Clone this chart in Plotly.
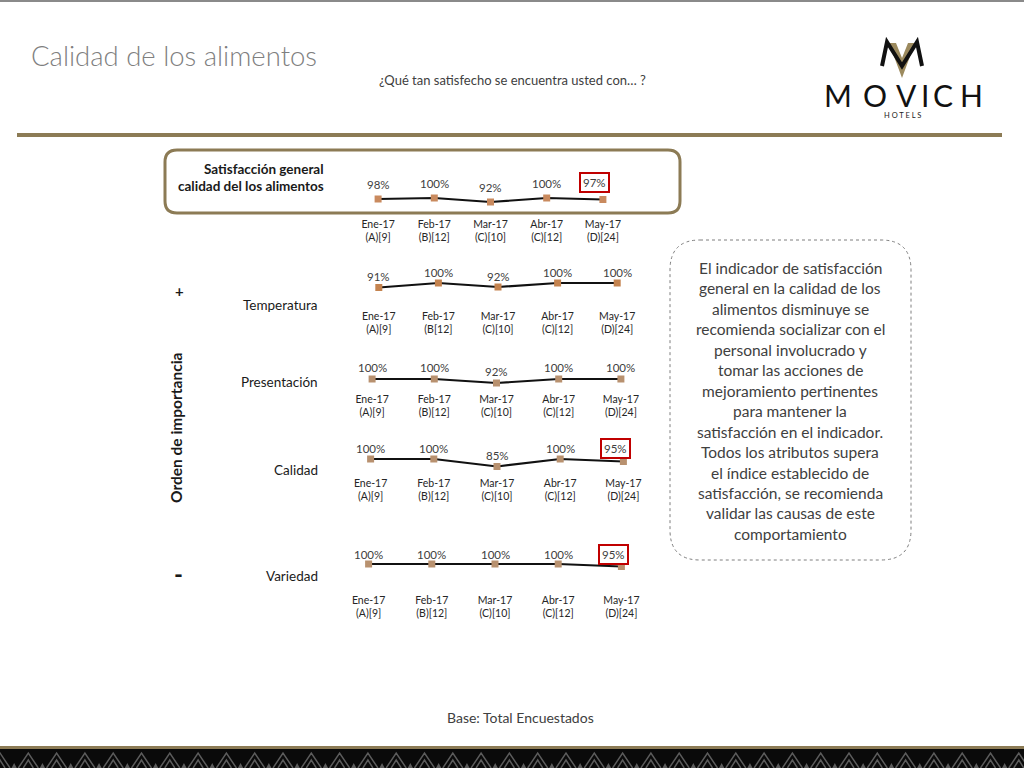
import plotly.graph_objects as go

W, H = 1024, 768


def X(px):
    return px / W


def Y(py):
    return 1 - py / H


# ---------------- data ----------------
months = ["Ene-17", "Feb-17", "Mar-17", "Abr-17", "May-17"]
bases = ["(A)[9]", "(B)[12]", "(C)[10]", "(C)[12]", "(D)[24]"]
bases_temperatura = ["(A)[9]", "(B[12]", "(C)[10]", "(C)[12]", "(D)[24]"]

general = [98, 100, 92, 100, 97]
temperatura = [91, 100, 92, 100, 100]
presentacion = [100, 100, 92, 100, 100]
calidad = [100, 100, 85, 100, 95]
variedad = [100, 100, 100, 100, 95]

row_labels = ["Temperatura", "Presentación", "Calidad", "Variedad"]
highlight_last = [True, False, False, True, True]

box_lines = [
    "El indicador de satisfacción",
    "general en la calidad de los",
    "alimentos disminuye se",
    "recomienda socializar con el",
    "personal involucrado y",
    "tomar las acciones de",
    "mejoramiento pertinentes",
    "para mantener la",
    "satisfacción en el indicador.",
    "Todos los atributos supera",
    "el índice establecido de",
    "satisfacción, se recomienda",
    "validar las causas de este",
    "comportamiento",
]

# ---------------- layout params ----------------
FONT = "Lato"
GOLD = "#8c7b55"
series = [general, temperatura, presentacion, calidad, variedad]
base_sets = [bases, bases_temperatura, bases, bases, bases]
# (y of 100% marker, left, width, tick standoff, label yshift, marker colour)
geom = [
    (198, 350, 281, 6, 15, "#c98a5e"),
    (283, 349, 298, 13, 11, "#c4834f"),
    (379, 341, 311, 0, 12, "#b8916f"),
    (459, 339, 316, 4, 11, "#b8916f"),
    (564, 337, 316, 16, 10, "#b8916f"),
]
YMIN, YMAX = 76, 108

fig = go.Figure()
annotations = []
shapes = []
layout_axes = {}

for i, (vals, bl, g, hl) in enumerate(zip(series, base_sets, geom, highlight_last)):
    y100, left, width, standoff, yshift, mcol = g
    n = i + 1
    xa = "x" if n == 1 else f"x{n}"
    ya = "y" if n == 1 else f"y{n}"
    top = y100 - (YMAX - 100) * 0.5
    bottom = top + (YMAX - YMIN) * 0.5
    xs = list(range(len(months)))
    fig.add_trace(go.Scatter(
        x=xs, y=vals, mode="lines+markers",
        line=dict(color="#111111", width=2.2),
        marker=dict(symbol="square", size=7, color=mcol),
        xaxis=xa, yaxis=ya, showlegend=False, hoverinfo="skip",
        cliponaxis=False,
    ))
    ticktext = [f"{m}<br>{b}" for m, b in zip(months, bl)]
    layout_axes["xaxis" if n == 1 else f"xaxis{n}"] = dict(
        domain=[X(left), X(left + width)], anchor=ya, range=[-0.5, 4.5],
        tickvals=xs, ticktext=ticktext, showgrid=False, zeroline=False,
        showline=False, ticks="", ticklabelstandoff=standoff,
        tickfont=dict(family=FONT, size=10.5, color="#262626"), fixedrange=True,
    )
    layout_axes["yaxis" if n == 1 else f"yaxis{n}"] = dict(
        domain=[Y(bottom), Y(top)], anchor=xa, range=[YMIN, YMAX],
        visible=False, fixedrange=True,
    )
    for j, v in enumerate(vals):
        boxed = hl and j == len(vals) - 1
        ann = dict(
            x=j, y=v, xref=xa, yref=ya, text=f"{v}%", showarrow=False,
            yshift=yshift + (2 if boxed else 0), xshift=-8 if boxed else 0,
            font=dict(family=FONT, size=11.5, color="#404040"),
        )
        if boxed:
            ann.update(bordercolor="#c00000", borderwidth=2, borderpad=2)
        annotations.append(ann)

# ---------------- page texts ----------------
def txt(x, y, text, size, color="#262626", xanchor="center", bold=False, **kw):
    d = dict(x=X(x), y=Y(y), xref="paper", yref="paper", text=text,
             showarrow=False, xanchor=xanchor, yanchor="middle",
             font=dict(family=FONT, size=size, color=color,
                       weight="bold" if bold else "normal"))
    d.update(kw)
    annotations.append(d)


annotations.append(dict(x=X(29), y=Y(55), xref="paper", yref="paper",
                        text="Calidad de los alimentos", showarrow=False,
                        xanchor="left", yanchor="middle",
                        font=dict(family=FONT, size=27.5, color="#7f7f7f", weight=300)))
txt(512, 80, "¿Qué tan satisfecho se encuentra usted con… ?", 13, "#404040")
txt(326, 169, "Satisfacción general", 13.5, "#1a1a1a", xanchor="right", bold=True)
txt(326, 186, "calidad del los alimentos", 13.5, "#1a1a1a", xanchor="right", bold=True)

row_y = [305, 382, 470, 576]
for lab, yy in zip(row_labels, row_y):
    txt(320, yy, lab, 13.5, "#1a1a1a", xanchor="right")

txt(179, 291, "+", 15, "#1a1a1a", bold=True)
txt(178, 573, "-", 24, "#1a1a1a", bold=True)
txt(176, 428, "Orden de importancia", 15.5, "#1a1a1a", bold=True, textangle=-90)

for k, line in enumerate(box_lines):
    txt(790, 268 + k * 20.45, line, 15.5, "#404040")

txt(520, 717, "Base: Total Encuestados", 14, "#404040")

# logo letters
for ch, cx in zip("MOVICH", [838, 875, 906, 925, 943, 971]):
    txt(cx, 95, ch, 30, "#111111")
txt(902, 116, "H O T E L S", 7.5, "#222222")

# ---------------- shapes ----------------
def rrect(x0, y0, x1, y1, r):
    return (f"M{X(x0 + r)},{Y(y0)} L{X(x1 - r)},{Y(y0)} Q{X(x1)},{Y(y0)} {X(x1)},{Y(y0 + r)} "
            f"L{X(x1)},{Y(y1 - r)} Q{X(x1)},{Y(y1)} {X(x1 - r)},{Y(y1)} "
            f"L{X(x0 + r)},{Y(y1)} Q{X(x0)},{Y(y1)} {X(x0)},{Y(y1 - r)} "
            f"L{X(x0)},{Y(y0 + r)} Q{X(x0)},{Y(y0)} {X(x0 + r)},{Y(y0)} Z")


shapes.append(dict(type="line", xref="paper", yref="paper", x0=0, x1=1,
                   y0=Y(1), y1=Y(1), line=dict(color="#8a8a8a", width=2)))
shapes.append(dict(type="line", xref="paper", yref="paper", x0=X(17), x1=X(1002),
                   y0=Y(135), y1=Y(135), line=dict(color=GOLD, width=4)))
shapes.append(dict(type="path", xref="paper", yref="paper",
                   path=rrect(165, 150, 680, 213, 12),
                   line=dict(color=GOLD, width=3)))
shapes.append(dict(type="path", xref="paper", yref="paper",
                   path=rrect(670, 240, 911, 560, 30),
                   line=dict(color="#7f7f7f", width=1, dash="dot")))

# emblem
shapes.append(dict(type="path", xref="paper", yref="paper",
                   path=(f"M{X(889)},{Y(43)} L{X(896)},{Y(43)} L{X(902)},{Y(58)} "
                         f"L{X(908)},{Y(43)} L{X(915)},{Y(43)} L{X(902)},{Y(78)} Z"),
                   fillcolor="#9c8a5e", line=dict(width=0)))
shapes.append(dict(type="path", xref="paper", yref="paper",
                   path=(f"M{X(882)},{Y(66)} L{X(887)},{Y(42)} L{X(902)},{Y(66)} "
                         f"L{X(917)},{Y(42)} L{X(922)},{Y(66)}"),
                   line=dict(color="#111111", width=4)))

# bottom band
shapes.append(dict(type="rect", xref="paper", yref="paper", x0=0, x1=1,
                   y0=Y(749), y1=Y(746), fillcolor=GOLD, line=dict(width=0)))
shapes.append(dict(type="rect", xref="paper", yref="paper", x0=0, x1=1,
                   y0=0, y1=Y(749), fillcolor="#0a0a0a", line=dict(width=0)))
outline = ""
small = ""
p = 0.0
while p < W + 30:
    outline += (f"M{X(p - 10)},{Y(768)} L{X(p)},{Y(753)} L{X(p + 10)},{Y(768)} "
                f"M{X(p - 5)},{Y(768)} L{X(p)},{Y(760)} L{X(p + 5)},{Y(768)} ")
    small += f"M{X(p + 11.5)},{Y(768)} L{X(p + 14.15)},{Y(763)} L{X(p + 16.8)},{Y(768)} Z "
    p += 28.3
shapes.append(dict(type="path", xref="paper", yref="paper", path=outline,
                   line=dict(color="#5c5c5c", width=1.5)))
shapes.append(dict(type="path", xref="paper", yref="paper", path=small,
                   fillcolor="#5c5c5c", line=dict(width=0)))

fig.update_layout(
    width=W, height=H, margin=dict(l=0, r=0, t=0, b=0),
    paper_bgcolor="white", plot_bgcolor="rgba(0,0,0,0)",
    showlegend=False, annotations=annotations, shapes=shapes,
    font=dict(family=FONT),
    **layout_axes,
)

fig.write_html("out.html", config={"displayModeBar": False},
               post_script="document.body.style.margin='0';document.body.style.overflow='hidden';")
